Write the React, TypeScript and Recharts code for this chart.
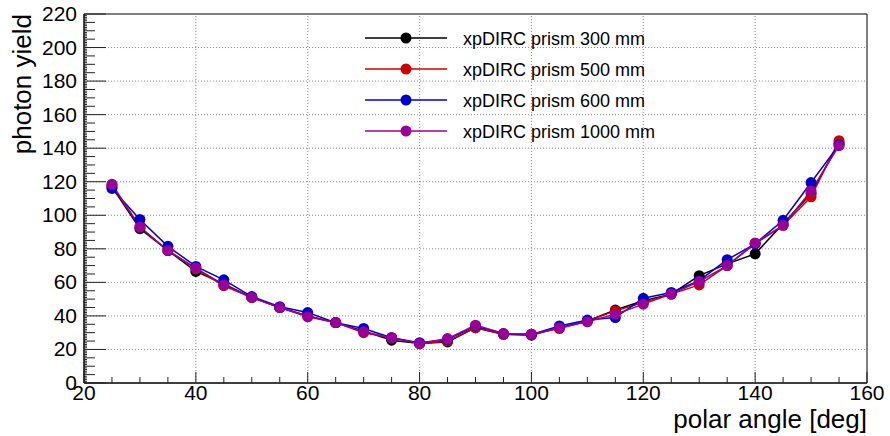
import React from 'react';
import { LineChart, Line, XAxis, YAxis, ReferenceLine, ReferenceArea, Legend } from 'recharts';

const angles = [25, 30, 35, 40, 45, 50, 55, 60, 65, 70, 75, 80, 85, 90, 95, 100, 105, 110, 115, 120, 125, 130, 135, 140, 145, 150, 155];
const prism300 = [117, 92, 79, 66.5, 59, 51, 45, 40, 36, 31, 25.5, 23.5, 24.5, 33, 29, 28.5, 33, 37, 43.5, 49, 53, 64, 71, 77, 95, 113, 143];
const prism500 = [118, 93, 79, 68, 58, 51, 45, 40, 36, 30, 27, 23.5, 25, 33, 29, 29, 32.5, 37, 43, 48, 53, 58.5, 70, 83, 94, 111, 144.5];
const prism600 = [116, 97.5, 81.5, 69.5, 61.5, 51.5, 45.5, 42, 36, 32.5, 27, 24, 26, 34, 29.5, 29, 34, 37.5, 39, 50.5, 54, 61, 73.5, 83, 97, 119.5, 142];
const prism1000 = [118.5, 93, 79, 68.5, 58.5, 51, 45, 39.5, 36, 30.5, 27, 23.5, 26.5, 34.5, 29.5, 29, 33, 36.5, 41, 47, 53, 60.5, 70, 83.5, 94, 114.5, 141.5];

const seriesNames = ['xpDIRC prism 300 mm', 'xpDIRC prism 500 mm', 'xpDIRC prism 600 mm', 'xpDIRC prism 1000 mm'];
const seriesKeys = ['p300', 'p500', 'p600', 'p1000'];
const seriesColors = ['#000000', '#cc0000', '#0000cc', '#990099'];

const xTicks = Array.from({ length: 29 }, (_, i) => 20 + i * 5);
const yTicks = Array.from({ length: 221 }, (_, i) => i);
const xGrid = [40, 60, 80, 100, 120, 140];
const yGrid = [20, 40, 60, 80, 100, 120, 140, 160, 180, 200];

const data = angles.map((a, i) => ({
  angle: a,
  p300: prism300[i],
  p500: prism500[i],
  p600: prism600[i],
  p1000: prism1000[i],
}));

const FONT = '"Liberation Sans", Arial, Helvetica, sans-serif';
const W = 890;
const H = 436;
const M = { top: 14, right: 23, bottom: 0, left: 0 };
const YW = 84;
const XH = 53;
const PLOT_LEFT = M.left + YW;
const PLOT_BOTTOM = H - M.bottom - XH;

const XTick = (props: any) => {
  const { x, payload } = props;
  const v = payload.value;
  const major = v % 20 === 0;
  return (
    <g>
      <line x1={x} x2={x} y1={PLOT_BOTTOM} y2={PLOT_BOTTOM - (major ? 11 : 6)} stroke="#222" strokeWidth={1} />
      {major && (
        <text x={x} y={PLOT_BOTTOM + 17} textAnchor="middle" fontSize={21} fontFamily={FONT} fill="#000">
          {v}
        </text>
      )}
    </g>
  );
};

const YTick = (props: any) => {
  const { y, payload } = props;
  const v = payload.value;
  const major = v % 20 === 0;
  const mid = v % 5 === 0;
  const len = major ? 22 : mid ? 11 : 3;
  return (
    <g>
      <line x1={PLOT_LEFT} x2={PLOT_LEFT + len} y1={y} y2={y} stroke="#222" strokeWidth={1} />
      {major && (
        <text x={PLOT_LEFT - 7} y={y + 7} textAnchor="end" fontSize={21} fontFamily={FONT} fill="#000">
          {v}
        </text>
      )}
    </g>
  );
};

const LegendContent = () => (
  <svg width={330} height={130} style={{ display: 'block' }}>
    {seriesNames.map((name, i) => {
      const cy = 16 + i * 31;
      return (
        <g key={name}>
          <line x1={5} x2={87} y1={cy} y2={cy} stroke={seriesColors[i]} strokeWidth={1.5} />
          <circle cx={46} cy={cy} r={5.5} fill={seriesColors[i]} />
          <text x={103} y={cy + 6.5} fontSize={18} fontFamily={FONT} fill="#000">
            {name}
          </text>
        </g>
      );
    })}
  </svg>
);

export default function App() {
  return (
    <div style={{ position: 'absolute', left: 0, top: 0, width: W, height: H, background: '#fff' }}>
      <LineChart width={W} height={H} data={data} margin={M}>
        <XAxis
          dataKey="angle"
          type="number"
          domain={[20, 160]}
          ticks={xTicks}
          interval={0}
          height={XH}
          tick={<XTick />}
          tickLine={false}
          axisLine={{ stroke: '#000', strokeWidth: 1 }}
          label={(p: any) => (
            <text x={867} y={428} textAnchor="end" fontSize={26} fontFamily={FONT} fill="#000">
              polar angle [deg]
            </text>
          )}
        />
        <YAxis
          type="number"
          domain={[0, 220]}
          ticks={yTicks}
          interval={0}
          width={YW}
          tick={<YTick />}
          tickLine={false}
          axisLine={{ stroke: '#000', strokeWidth: 1 }}
          label={(p: any) => (
            <text
              x={31}
              y={14}
              transform="rotate(-90 31 14)"
              textAnchor="end"
              fontSize={26}
              fontFamily={FONT}
              fill="#000"
            >
              photon yield
            </text>
          )}
        />
        {xGrid.map((v) => (
          <ReferenceLine key={'gx' + v} x={v} stroke="#888" strokeWidth={1} strokeDasharray="1 2" />
        ))}
        {yGrid.map((v) => (
          <ReferenceLine key={'gy' + v} y={v} stroke="#888" strokeWidth={1} strokeDasharray="1 2" />
        ))}
        <ReferenceArea x1={20} x2={160} y1={0} y2={220} fill="none" stroke="#000" strokeWidth={1} ifOverflow="visible" />
        {seriesKeys.map((k, i) => (
          <Line
            key={k}
            type="linear"
            dataKey={k}
            name={seriesNames[i]}
            stroke={seriesColors[i]}
            strokeWidth={1.5}
            dot={{ r: 5.5, fill: seriesColors[i], stroke: seriesColors[i], strokeWidth: 0 }}
            isAnimationActive={false}
          />
        ))}
        <Legend
          layout="horizontal"
          verticalAlign="middle"
          align="center"
          wrapperStyle={{ position: 'absolute', left: 360, top: 22, width: 330, height: 130 }}
          content={<LegendContent />}
        />
      </LineChart>
    </div>
  );
}
